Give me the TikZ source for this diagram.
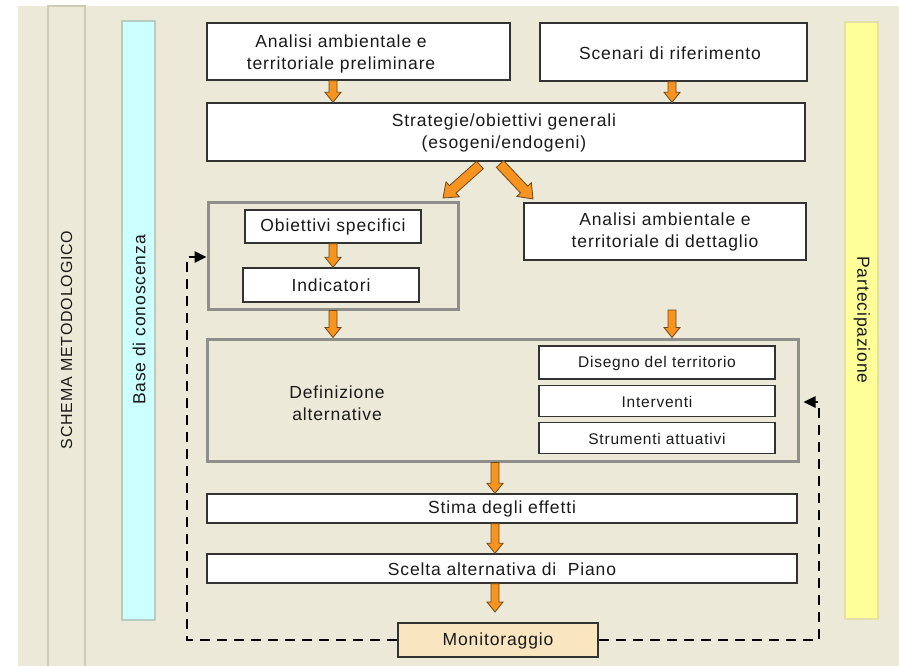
\documentclass[tikz,border=0pt]{standalone}
\usepackage{fontspec}
\setmainfont{Liberation Sans}[LetterSpace=5]
\usetikzlibrary{calc,arrows.meta}
\definecolor{bg}{HTML}{ECE9D8}
\definecolor{bar1}{HTML}{CFCBB4}
\definecolor{cyanfill}{HTML}{CCFFFF}
\definecolor{cyanline}{HTML}{B5CCC2}
\definecolor{yelfill}{HTML}{FFFF99}
\definecolor{yelline}{HTML}{E2E0A8}
\definecolor{grpline}{HTML}{8E8E8A}
\definecolor{boxline}{HTML}{333333}
\definecolor{monfill}{HTML}{F9E6C0}
\definecolor{arrfill}{HTML}{F7931E}
\definecolor{arrline}{HTML}{6B4A1A}
\definecolor{txtc}{HTML}{1A1A1A}
\newcommand\mainsz{\fontsize{17.5pt}{22pt}\selectfont}
\newcommand\smallsz{\fontsize{15.5pt}{19pt}\selectfont}
\newcommand\sidesz{\fontsize{16pt}{19pt}\selectfont}
% block arrow: start, end, shaft half width, head half width, head length
\newcommand\barrow[5]{%
  \coordinate (ba-s) at #1;
  \coordinate (ba-e) at #2;
  \coordinate (ba-h) at ($(ba-e)!#5pt!(ba-s)$);
  \draw[oarrow] ($(ba-s)!#3pt!90:(ba-e)$) -- ($(ba-h)!#3pt!-90:(ba-s)$)
    -- ($(ba-h)!#4pt!-90:(ba-s)$) -- (ba-e) -- ($(ba-h)!#4pt!90:(ba-s)$)
    -- ($(ba-h)!#3pt!90:(ba-s)$) -- ($(ba-s)!#3pt!-90:(ba-e)$) -- cycle;}
\begin{document}
\begin{tikzpicture}[x=1pt,y=-1pt,
  box/.style={draw=boxline, line width=1.4pt, fill=white, inner sep=0pt},
  grp/.style={draw=grpline, line width=3pt, inner sep=0pt},
  txt/.style={text=txtc, font=\mainsz, inner sep=0pt, align=center},
  stxt/.style={text=txtc, font=\smallsz, inner sep=0pt, align=center},
  oarrow/.style={fill=arrfill, draw=arrline, line width=0.8pt, line join=miter},
  fb/.style={draw=black, line width=2.5pt, dash pattern=on 10pt off 7pt, -{Triangle[length=12pt,width=11pt]}},
  sidebar/.style={line width=1.5pt, inner sep=0pt}]
\useasboundingbox (0,0) rectangle (899,666);
\fill[white] (0,0) rectangle (899,666);
\fill[bg] (18,6) rectangle (899,666);

% side bars
\node[sidebar, draw=bar1, fill=bg, minimum width=37pt, minimum height=664pt] (bar1) at (66.5,338) {};
\node[text=txtc, font=\sidesz, rotate=90, inner sep=0pt] (bar1t) at (66.5,340) {SCHEMA METODOLOGICO};
\node[sidebar, draw=cyanline, fill=cyanfill, minimum width=33pt, minimum height=599pt] (bar2) at (138.5,320.5) {};
\node[text=txtc, font=\mainsz, rotate=90, inner sep=0pt] (bar2t) at (139,320) {Base di conoscenza};
\node[sidebar, draw=yelline, fill=yelfill, minimum width=33pt, minimum height=597pt] (bar3) at (861.5,320.5) {};
\node[text=txtc, font=\mainsz, rotate=-90, inner sep=0pt] (bar3t) at (862,320) {Partecipazione};

% top boxes
\node[box, minimum width=303pt, minimum height=57pt] (a1) at (358.5,51.5) {};
\node[txt] (a1t) at (341,53.5) {Analisi ambientale e\\territoriale preliminare};
\node[box, minimum width=267pt, minimum height=58pt] (sc) at (673.5,52) {};
\node[txt] (sct) at (670,53) {Scenari di riferimento};
\node[box, minimum width=598pt, minimum height=58pt] (st) at (506,132) {};
\node[txt] (stt) at (504,132.5) {Strategie/obiettivi generali\\(esogeni/endogeni)};

% group 1
\node[grp, minimum width=250pt, minimum height=107pt] (g1) at (333,255.5) {};
\node[box, minimum width=176pt, minimum height=33pt] (os) at (333,226.5) {};
\node[txt] (ost) at (333,227) {Obiettivi specifici};
\node[box, minimum width=176pt, minimum height=34pt] (ind) at (331,285) {};
\node[txt] (indt) at (331,285.5) {Indicatori};
\node[box, minimum width=282pt, minimum height=57pt] (dt) at (665,231.5) {};
\node[txt] (dtt) at (665,232) {Analisi ambientale e\\territoriale di dettaglio};

% group 2
\node[grp, minimum width=591pt, minimum height=122pt] (g2) at (502.5,400) {};
\node[txt] (deft) at (337,403.5) {Definizione\\alternative};
\node[box, minimum width=236pt, minimum height=33pt] (dis) at (657,362.5) {};
\node[stxt] (dist) at (657,363) {Disegno del territorio};
\node[box, minimum width=236pt, minimum height=31pt] (int) at (657,401) {};
\node[stxt] (intt) at (657,401.5) {Interventi};
\node[box, minimum width=236pt, minimum height=31pt] (str) at (657,438) {};
\node[stxt] (strt) at (657,438.5) {Strumenti attuativi};

% lower boxes
\node[box, minimum width=590pt, minimum height=29pt] (sti) at (502,508.5) {};
\node[txt] (stit) at (502,509) {Stima degli effetti};
\node[box, minimum width=590pt, minimum height=29pt] (sce) at (502,568.5) {};
\node[txt] (scet) at (502,569) {Scelta alternativa di\ \ Piano};
\node[box, fill=monfill, minimum width=200pt, minimum height=34pt] (mon) at (498,640) {};
\node[txt] (mont) at (498,640.5) {Monitoraggio};

% orange block arrows
\barrow{(333,0 |- a1.south)}{(333,0 |- st.north)}{4}{8}{10}
\barrow{(672,0 |- sc.south)}{(672,0 |- st.north)}{4}{8}{10}
\coordinate (d1s) at (480,165);
\coordinate (d1e) at (443,198);
\coordinate (d2s) at (500,164);
\coordinate (d2e) at (533,199);
\barrow{(d1s)}{(d1e)}{5}{10}{13}
\barrow{(d2s)}{(d2e)}{5}{10}{13}
\barrow{(333,0 |- os.south)}{(333,0 |- ind.north)}{4}{8}{10}
\barrow{(333,0 |- g1.south)}{(333,0 |- g2.north)}{4}{8}{10}
\coordinate (d3s) at (672,310);
\barrow{(d3s)}{(672,0 |- g2.north)}{4}{8}{10}
\barrow{(495,0 |- g2.south)}{(495,0 |- sti.north)}{4}{8}{10}
\barrow{(495,0 |- sti.south)}{(495,0 |- sce.north)}{4}{8}{10}
\coordinate (d4e) at (495,612);
\barrow{(495,0 |- sce.south)}{(d4e)}{4}{8}{10}

% feedback dashed lines
\coordinate (fbl) at (187,257);
\coordinate (fbr) at (819,402);
\draw[fb] (mon.west) -| (fbl) -- (g1.west |- fbl);
\draw[fb] (mon.east) -| (fbr) -- ([xshift=4pt]g2.east |- fbr);
\end{tikzpicture}
\end{document}
